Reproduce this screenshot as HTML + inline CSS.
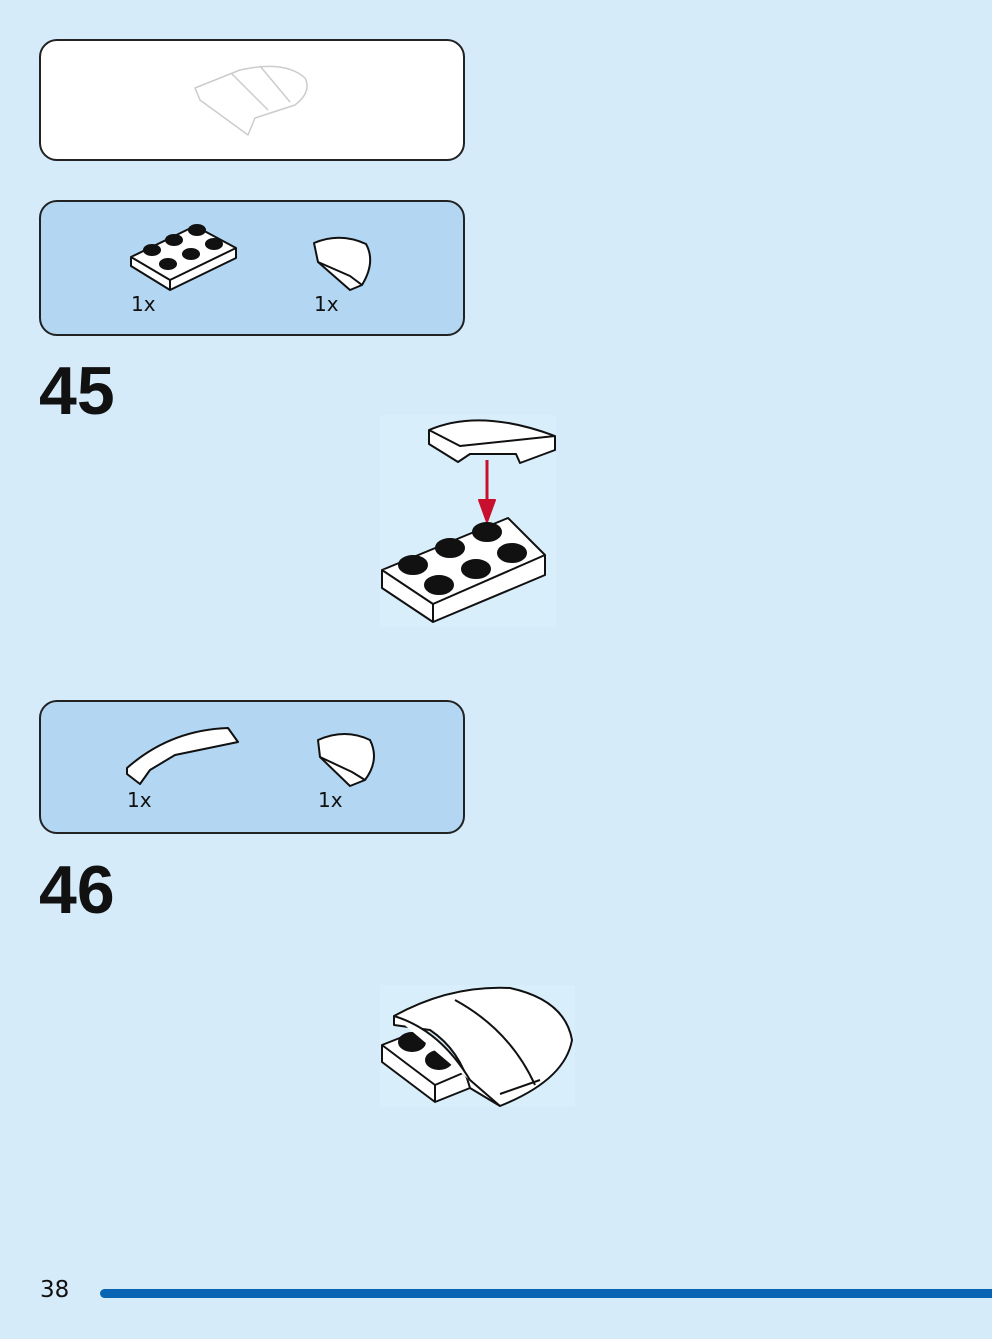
<!DOCTYPE html>
<html><head><meta charset="utf-8"><style>
html,body{margin:0;padding:0;}
body{width:992px;height:1339px;background:#d5ebfa;position:relative;overflow:hidden;font-family:"Liberation Sans",sans-serif;}
.box{position:absolute;border:2px solid #222;border-radius:18px;box-sizing:border-box;}
.num{position:absolute;font-size:68px;color:#111;font-family:"Liberation Sans",sans-serif;font-weight:bold;}
.lbl{position:absolute;font-size:20px;color:#111;font-family:"DejaVu Sans",sans-serif;}
svg{position:absolute;left:0;top:0;}
</style></head><body>
<div class="box" style="left:39px;top:39px;width:426px;height:122px;background:#fff;"></div>
<div class="box" style="left:39px;top:200px;width:426px;height:136px;background:#b3d7f3;"></div>
<div class="box" style="left:39px;top:700px;width:426px;height:134px;background:#b3d7f3;"></div>
<div class="num" style="left:39px;top:352px;">45</div>
<div class="num" style="left:39px;top:851px;">46</div>
<div class="lbl" style="left:131px;top:292px;">1x</div>
<div class="lbl" style="left:314px;top:292px;">1x</div>
<div class="lbl" style="left:127px;top:788px;">1x</div>
<div class="lbl" style="left:318px;top:788px;">1x</div>
<div class="lbl" style="left:40px;top:1277px;font-size:23px;">38</div>
<div style="position:absolute;left:100px;top:1289px;width:900px;height:9px;background:#0a64b4;border-radius:5px;"></div>
<svg width="992" height="1339" viewBox="0 0 992 1339" fill="#fff" stroke="#111" stroke-width="2" stroke-linejoin="round">
<g stroke="#ccc" stroke-width="1.5">
<path d="M195 88 L240 70 Q285 60 305 78 Q312 92 295 105 L255 118 L248 135 L200 100 Z"/>
<path d="M232 74 L268 110 M260 66 L290 102"/>
</g>
<path d="M131 257 L195 226 L236 248 L236 258 L170 290 L131 266 Z"/>
<path d="M131 257 L170 280 L236 248 M170 280 L170 290"/>
<g fill="#111"><ellipse cx="152" cy="250" rx="8" ry="5"/><ellipse cx="174" cy="240" rx="8" ry="5"/><ellipse cx="197" cy="230" rx="8" ry="5"/><ellipse cx="168" cy="264" rx="8" ry="5"/><ellipse cx="191" cy="254" rx="8" ry="5"/><ellipse cx="214" cy="244" rx="8" ry="5"/></g>
<path d="M314 243 Q340 232 366 244 Q376 262 362 285 L350 290 L318 262 Z"/>
<path d="M318 262 L350 276 L362 285"/>
<rect x="380" y="415" width="176" height="212" fill="#d9eefb" stroke="none"/>
<path d="M429 430 Q480 408 555 436 L555 450 L520 463 L516 454 L470 454 L458 462 L429 444 Z"/>
<path d="M429 430 L460 446 L555 436"/>
<line x1="487" y1="460" x2="487" y2="505" stroke="#c8102e" stroke-width="3"/>
<path d="M479 500 L495 500 L487 522 Z" fill="#c8102e" stroke="#c8102e"/>
<path d="M382 570 L508 518 L545 555 L545 575 L433 622 L382 588 Z"/>
<path d="M382 570 L433 604 L545 555 M433 604 L433 622"/>
<g fill="#111"><ellipse cx="413" cy="565" rx="14" ry="9"/><ellipse cx="450" cy="548" rx="14" ry="9"/><ellipse cx="487" cy="532" rx="14" ry="9"/><ellipse cx="439" cy="585" rx="14" ry="9"/><ellipse cx="476" cy="569" rx="14" ry="9"/><ellipse cx="512" cy="553" rx="14" ry="9"/></g>
<path d="M127 768 Q170 730 228 728 L238 742 L175 755 L150 770 L140 784 L127 774 Z"/>
<path d="M318 740 Q345 728 370 740 Q380 760 365 780 L350 786 L320 757 Z"/>
<path d="M320 757 L352 772 L365 780"/>
<rect x="380" y="985" width="195" height="122" fill="#d9eefb" stroke="none"/>
<path d="M382 1045 L420 1030 L470 1080 L470 1088 L435 1102 L382 1062 Z"/>
<path d="M382 1045 L435 1085 L470 1070 M435 1085 L435 1102"/>
<g fill="#111"><ellipse cx="412" cy="1042" rx="13" ry="9"/><ellipse cx="439" cy="1060" rx="13" ry="9"/></g>
<path d="M394 1016 Q450 985 510 988 Q565 1000 572 1040 Q565 1080 500 1106 L470 1088 Q460 1050 430 1030 L394 1025 Z"/>
<path d="M394 1016 Q440 1030 470 1080 L500 1106 M455 1000 Q510 1030 535 1085 M500 1094 L540 1080"/>
</svg>
</body></html>
